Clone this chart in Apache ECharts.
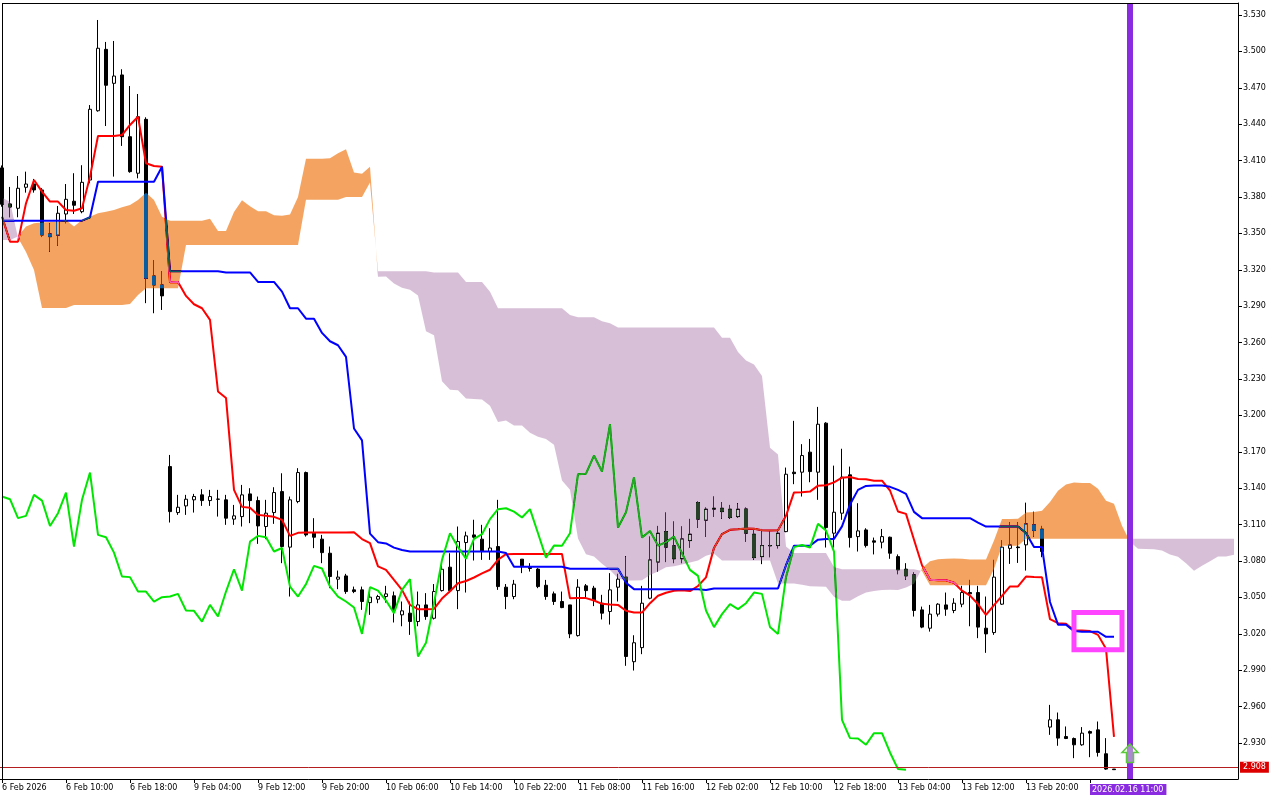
<!DOCTYPE html>
<html><head><meta charset="utf-8">
<script src="https://cdn.jsdelivr.net/npm/echarts@6/dist/echarts.min.js"></script>
<style>html,body{margin:0;padding:0;background:#fff}#c{width:1280px;height:800px}</style>
</head><body><div id="c"></div>
<script>
// ---------------- DATA ----------------
const openP = [
3.404,3.3743,3.3707,3.388,3.3907,3.3858,3.3496,3.3485,3.366,3.3765,
3.3679,3.394,3.4511,3.5017,3.4737,3.4806,3.4297,3.3996,3.444,3.3149,
3.3075,3.1578,3.1199,3.1254,3.1304,3.1345,3.1298,3.131,3.1304,3.1145,
3.1166,3.1353,3.1298,3.1084,3.1199,3.1372,3.0914,3.129,3.1529,3.1029,
3.098,3.0864,3.065,3.0677,3.0562,3.0562,3.0457,3.0485,3.0507,3.0513,
3.0356,3.037,3.0301,3.0438,3.0328,3.0556,3.0749,3.0556,3.0952,3.1015,
3.098,3.0878,3.0919,3.0584,3.0507,3.0815,3.0749,3.0733,3.06,3.0529,
3.0466,3.0438,3.0185,3.0595,3.0576,3.0452,3.0384,3.0584,3.0667,2.997,
3.0086,3.0493,3.0791,3.1042,3.0925,3.0818,3.0968,3.1282,3.1136,3.1227,
3.1235,3.1227,3.1166,3.1229,3.1021,3.0836,3.0927,3.0927,3.1042,3.1532,
3.1532,3.1697,3.1532,3.1936,3.1029,3.1194,3.151,3.1001,3.1056,3.0966,
3.0955,3.0996,3.0836,3.0733,3.0686,3.0397,3.0246,3.0362,3.0438,3.0392,
3.0444,3.054,3.054,3.0246,3.021,3.0444,3.0904,3.0915,3.0933,3.1098,
3.1062,2.9431,2.9491,2.9353,2.9337,2.9285,2.9394,2.9408,2.9211,2.9085];
const highP = [
3.406,3.3883,3.3973,3.4009,3.3949,3.3874,3.3584,3.3726,3.3907,3.3996,
3.4062,3.4558,3.5259,3.5078,3.5086,3.4853,3.4715,3.4649,3.4457,3.3276,
3.319,3.1674,3.1345,3.1345,3.1353,3.1392,3.1386,3.1386,3.1345,3.1262,
3.1427,3.14,3.1331,3.1304,3.1408,3.1523,3.1331,3.1565,3.1537,3.1153,
3.1015,3.0919,3.0721,3.0694,3.0589,3.0589,3.0535,3.0521,3.0595,3.0548,
3.0466,3.0466,3.0548,3.0535,3.061,3.0768,3.0864,3.1084,3.1042,3.114,
3.1098,3.107,3.1304,3.061,3.0644,3.0815,3.0782,3.0741,3.0644,3.0548,
3.0548,3.0438,3.065,3.061,3.0595,3.0521,3.07,3.0694,3.0839,3.0188,
3.0595,3.1001,3.1089,3.1199,3.1125,3.1084,3.1147,3.129,3.124,3.1331,
3.1286,3.1262,3.1276,3.124,3.107,3.1064,3.1042,3.1056,3.157,3.1955,
3.1763,3.1806,3.207,3.1944,3.1586,3.1725,3.1578,3.1276,3.107,3.0993,
3.1064,3.1001,3.0854,3.0782,3.0705,3.0424,3.0438,3.0452,3.054,3.0493,
3.0595,3.0644,3.0595,3.0507,3.0809,3.0968,3.1117,3.1117,3.1281,3.1207,
3.1089,2.9614,2.9551,2.9436,2.9345,2.9431,2.9403,2.9477,2.934,2.9085];
const lowP = [
3.372,3.3633,3.3633,3.3836,3.3836,3.347,3.335,3.3397,3.3584,3.366,
3.3666,3.3913,3.4503,3.4385,3.3968,3.4221,3.4,3.3954,3.2925,3.2842,
3.2869,3.1117,3.118,3.118,3.1199,3.1254,3.1254,3.1166,3.1098,3.1098,
3.1084,3.1112,3.0941,3.098,3.1106,3.0782,3.0507,3.1276,3.1001,3.0906,
3.0782,3.0576,3.0568,3.0529,3.0535,3.0397,3.0356,3.0452,3.0457,3.0293,
3.0262,3.0191,3.0262,3.0315,3.0318,3.0548,3.054,3.0403,3.054,3.0804,
3.0809,3.0809,3.0562,3.0403,3.0485,3.07,3.0713,3.0576,3.048,3.0438,
3.0411,3.0164,3.0177,3.0502,3.0428,3.0318,3.0276,3.0466,2.9936,2.9897,
3.0032,3.0485,3.0713,3.0791,3.0782,3.0782,3.0911,3.1072,3.1001,3.1166,
3.1147,3.1147,3.1158,3.096,3.0809,3.0774,3.0831,3.0904,3.1037,3.1433,
3.1331,3.1449,3.1304,3.0911,3.0911,3.1139,3.0911,3.0878,3.0911,3.0854,
3.0904,3.0818,3.0691,3.0644,3.0342,3.0246,3.0218,3.0342,3.0348,3.037,
3.0419,3.0262,3.0164,3.0043,3.0191,3.0438,3.0776,3.0784,3.0721,3.1001,
3.0831,2.9367,2.9277,2.9332,2.9175,2.9277,2.9183,2.9188,2.9079,2.908];
const closeP = [
3.374,3.3717,3.3872,3.3907,3.3858,3.3487,3.3473,3.3666,3.3781,3.3732,
3.3921,3.4523,3.5026,3.4721,3.4797,3.4297,3.4009,3.4462,3.313,3.3075,
3.2985,3.1207,3.1243,3.1309,3.1331,3.1298,3.1331,3.1309,3.1153,3.1172,
3.1345,3.1298,3.1089,3.1194,3.1364,3.0919,3.1304,3.1529,3.1015,3.0996,
3.0869,3.0672,3.0667,3.0548,3.0548,3.0466,3.0502,3.0507,3.0529,3.0392,
3.0389,3.0301,3.0438,3.0342,3.0548,3.0732,3.0556,3.096,3.1007,3.0996,
3.0878,3.0907,3.0589,3.0507,3.0609,3.076,3.0738,3.0589,3.0507,3.0466,
3.0416,3.0199,3.0584,3.0556,3.0474,3.037,3.0562,3.065,3.0013,3.0126,
3.0452,3.0809,3.1029,3.0914,3.0818,3.0982,3.1021,3.1145,3.1227,3.1235,
3.1207,3.1158,3.1227,3.1029,3.0828,3.0927,3.0925,3.1029,3.1515,3.152,
3.1669,3.1537,3.1927,3.1075,3.1202,3.1491,3.0993,3.1048,3.0927,3.0955,
3.1001,3.0864,3.0727,3.0677,3.0392,3.0255,3.0362,3.0444,3.0403,3.0452,
3.054,3.0529,3.0255,3.0199,3.0667,3.0914,3.0932,3.091,3.1106,3.1051,
3.0878,2.9491,2.934,2.9337,2.9285,2.9381,2.9381,2.9222,2.9085,2.908];
const tenkan = [
3.3638,3.3432,3.3432,3.3748,3.394,3.3844,3.3762,3.3762,3.3693,3.3687,
3.3707,3.3968,3.4303,3.4303,3.4303,3.4311,3.4394,3.4462,3.4078,3.4056,
3.405,3.3098,3.31,3.2985,3.2916,3.2883,3.2787,3.2197,3.2144,3.1386,
3.1246,3.1238,3.118,3.1172,3.1164,3.1139,3.1007,3.1032,3.1034,3.1034,
3.1034,3.1034,3.1034,3.1034,3.1036,3.0981,3.0947,3.0755,3.0727,3.0644,
3.0562,3.0438,3.0403,3.0403,3.0405,3.049,3.055,3.0617,3.0635,3.0664,
3.0698,3.0728,3.081,3.0856,3.0858,3.0858,3.0858,3.0858,3.0858,3.0858,
3.0858,3.0492,3.0494,3.0494,3.0474,3.0447,3.0441,3.0438,3.039,3.0375,
3.0375,3.0452,3.0513,3.0538,3.0554,3.0558,3.0552,3.0594,3.0665,3.0908,
3.1022,3.1057,3.1062,3.1068,3.1065,3.1053,3.1052,3.1053,3.1172,3.1365,
3.1367,3.1372,3.1421,3.1424,3.1448,3.1487,3.1492,3.1476,3.1474,3.1462,
3.1462,3.1381,3.1208,3.1188,3.0975,3.0765,3.0646,3.0642,3.0641,3.062,
3.0555,3.0515,3.0445,3.0355,3.0436,3.0512,3.059,3.059,3.0672,3.0668,
3.0665,3.032,3.0287,3.0282,3.0228,3.0228,3.0222,3.0191,3.0076,2.935];
const kijun = [
3.3605,3.3605,3.3605,3.3605,3.3605,3.3605,3.3605,3.3605,3.3605,3.3605,
3.3605,3.3633,3.3926,3.3926,3.3926,3.3926,3.3926,3.3926,3.3926,3.3926,
3.405,3.3188,3.3188,3.3188,3.3188,3.3188,3.3188,3.3188,3.3178,3.3178,
3.3178,3.3178,3.31,3.31,3.31,3.302,3.2883,3.2883,3.2797,3.2797,
3.268,3.2611,3.2578,3.2482,3.1892,3.1794,3.1025,3.0955,3.0945,3.091,
3.089,3.0878,3.0878,3.0878,3.0878,3.0878,3.0878,3.0878,3.0878,3.0878,
3.0878,3.0878,3.0878,3.0866,3.0752,3.0752,3.0752,3.0752,3.0752,3.0752,
3.0752,3.0736,3.0736,3.0736,3.0736,3.0736,3.0736,3.0736,3.062,3.0568,
3.0568,3.0568,3.0568,3.0568,3.0568,3.0568,3.0568,3.0568,3.056,3.0573,
3.0573,3.0573,3.0573,3.0573,3.0573,3.0573,3.0573,3.0573,3.0765,3.0926,
3.0926,3.0926,3.0976,3.0982,3.0982,3.1085,3.1265,3.1386,3.1419,3.1422,
3.1422,3.1411,3.1386,3.1353,3.1205,3.1153,3.1153,3.1153,3.1153,3.1153,
3.1153,3.1153,3.1117,3.1084,3.1084,3.1084,3.1084,3.1084,3.103,3.0915,
3.0915,3.0462,3.0275,3.0275,3.0222,3.0217,3.0217,3.0217,3.0175,3.0175];
const spanA = [
3.3446,3.3446,3.3475,3.3556,3.3584,3.3589,3.3594,3.3594,3.3611,3.3556,
3.3611,3.3638,3.3666,3.3679,3.3693,3.3715,3.3734,3.3776,3.3836,3.3776,
3.3638,3.3605,3.3605,3.3605,3.3605,3.3605,3.362,3.3519,3.3519,3.3677,
3.3773,3.3724,3.3683,3.3683,3.3649,3.3646,3.3656,3.38,3.4115,3.4115,
3.4115,3.4119,3.416,3.4194,3.4002,3.3991,3.405,3.3143,3.3144,3.3087,
3.3052,3.3036,3.2988,3.2693,3.2661,3.2282,3.2212,3.2208,3.214,3.2136,
3.2132,3.208,3.1945,3.1958,3.1916,3.1916,3.1857,3.1823,3.1806,3.1758,
3.1464,3.1388,3.0986,3.0855,3.0836,3.0777,3.0726,3.0658,3.064,3.064,
3.0641,3.0684,3.0714,3.0748,3.0757,3.0771,3.0788,3.0803,3.0844,3.0861,
3.0805,3.0805,3.0805,3.0805,3.0805,3.0805,3.0805,3.0614,3.0615,3.0615,
3.0605,3.0592,3.0589,3.0587,3.0505,3.0472,3.0472,3.051,3.0541,3.0553,
3.0561,3.0563,3.056,3.0581,3.0613,3.0741,3.0798,3.0815,3.0818,3.082,
3.0819,3.0813,3.0813,3.0813,3.0969,3.1146,3.1147,3.1149,3.1199,3.1203,
3.1215,3.1286,3.1379,3.1431,3.1447,3.1442,3.1442,3.1396,3.1297,3.1271,
3.109,3.0959,3.09,3.0898,3.0897,3.0887,3.0854,3.0834,3.0781,3.072,
3.076,3.0798,3.0837,3.0837,3.0851];
const spanB = [
3.3793,3.376,3.3465,3.3347,3.3199,3.2886,3.2886,3.2886,3.2886,3.291,
3.291,3.291,3.291,3.291,3.291,3.291,3.2919,3.2993,3.3048,3.3048,
3.3048,3.3048,3.3048,3.3405,3.3405,3.3405,3.3405,3.3405,3.3405,3.3405,
3.3405,3.3405,3.3405,3.3405,3.3405,3.3405,3.3405,3.3405,3.3777,3.3777,
3.3777,3.3777,3.3777,3.38,3.38,3.38,3.392,3.3188,3.3188,3.3188,
3.3188,3.3188,3.3188,3.3188,3.3178,3.3178,3.3178,3.3178,3.31,3.31,
3.31,3.302,3.2883,3.2883,3.2883,3.2883,3.2883,3.2883,3.2883,3.2883,
3.2883,3.2828,3.2808,3.2808,3.2808,3.2776,3.276,3.2725,3.2725,3.2725,
3.2725,3.2725,3.2725,3.2725,3.2725,3.2725,3.2725,3.2725,3.2725,3.2725,
3.2639,3.2639,3.2522,3.2453,3.242,3.2324,3.1734,3.1677,3.0919,3.0865,
3.0865,3.0865,3.0865,3.0865,3.0751,3.0731,3.0731,3.0731,3.0731,3.0731,
3.0731,3.0731,3.0731,3.0731,3.0731,3.0717,3.06,3.06,3.06,3.06,
3.06,3.06,3.06,3.06,3.0734,3.0926,3.0926,3.0926,3.0984,3.0984,
3.0984,3.0984,3.0984,3.0984,3.0984,3.0984,3.0984,3.0984,3.0984,3.0984,
3.0984,3.0984,3.0984,3.0984,3.0984,3.0984,3.0984,3.0984,3.0984,3.0984,
3.0984,3.0984,3.0984,3.0984,3.0984];
const CHIKOU_SHIFT = 26;           // lagging span = close plotted 26 bars back
const xTickLabels = ['6 Feb 2026','6 Feb 10:00','6 Feb 18:00','9 Feb 04:00','9 Feb 12:00','9 Feb 20:00',
  '10 Feb 06:00','10 Feb 14:00','10 Feb 22:00','11 Feb 08:00','11 Feb 16:00','12 Feb 02:00',
  '12 Feb 10:00','12 Feb 18:00','13 Feb 04:00','13 Feb 12:00','13 Feb 20:00'];
const LABEL_STEP = 8;
const cursorLabel = '2026.02.16 11:00';
const cursorLabelBar = 136;
const cursorBar = 141;
const yTicks = [3.530,3.500,3.470,3.440,3.410,3.380,3.350,3.320,3.290,3.260,3.230,3.200,
  3.170,3.140,3.110,3.080,3.050,3.020,2.990,2.960,2.930];
const bidPrice = 2.908;
const boxBars = [134, 140];
const boxPrices = [3.0375, 3.0068];
const arrowBar = 141;
const arrowPrice = 2.9217;
const N_SLOTS = 155;
const Y_MIN = 2.90031, Y_MAX = 3.5399;

// ---------------- BUILD ----------------
const cats = Array.from({length: N_SLOTS}, (_, i) => String(i));
const candles = openP.map((o, i) => [o, closeP[i], lowP[i], highP[i]]);
const chikou = closeP.slice(CHIKOU_SHIFT);

const bullShow = [244,164,96], bearShow = [216,191,216];
const inv = c => 'rgb(' + c.map(v => 255 - v).join(',') + ')';
const bullDiff = inv(bullShow), bearDiff = inv(bearShow);

const cloudRuns = [];
{
  let s = 0;
  for (let i = 1; i < spanA.length - 1; i++) {
    const up0 = spanA[s] >= spanB[s], upi = spanA[i] >= spanB[i];
    if (up0 !== upi) { cloudRuns.push([s, i, up0]); s = i; }
  }
  cloudRuns.push([s, spanA.length - 1, spanA[s] >= spanB[s]]);
}

const isLabelBar = i => (i % LABEL_STEP === 0 && i / LABEL_STEP < xTickLabels.length) || i === cursorLabelBar;
const FONT = 'DejaVu Sans';

const chart = echarts.init(document.getElementById('c'), null, {renderer: 'canvas', width: 1280, height: 800});
chart.setOption({
  animation: false,
  backgroundColor: '#ffffff',
  textStyle: {fontFamily: FONT},
  grid: {left: -2, right: 42, top: 3, bottom: 21, containLabel: false, outerBoundsMode: 'none'},
  xAxis: {
    type: 'category', data: cats, boundaryGap: true,
    axisLine: {show: true, lineStyle: {color: '#000', width: 1}},
    axisTick: {show: true, alignWithLabel: true, interval: isLabelBar, length: 4, lineStyle: {color: '#000'}},
    splitLine: {show: false},
    axisLabel: {
      show: true, interval: isLabelBar, align: 'left', margin: 5,
      color: '#000', fontSize: 8, fontFamily: FONT,
      formatter: (v, idx) => idx === cursorLabelBar ? '{p|' + cursorLabel + '}' : xTickLabels[idx / LABEL_STEP],
      rich: {p: {backgroundColor: '#8a2be2', color: '#fff', padding: [2, 3, 1, 2], fontSize: 8, fontFamily: FONT}}
    }
  },
  yAxis: {
    type: 'value', position: 'right', min: Y_MIN, max: Y_MAX, scale: true,
    axisLine: {show: true, lineStyle: {color: '#000', width: 1}},
    axisTick: {show: true, length: 4, customValues: yTicks, lineStyle: {color: '#000'}},
    splitLine: {show: false},
    axisLabel: {customValues: yTicks, formatter: v => v.toFixed(3), color: '#000', fontSize: 8, fontFamily: FONT, margin: 5}
  },
  graphic: [
    {type: 'line', silent: true, z: 100, shape: {x1: 2.5, y1: 3, x2: 2.5, y2: 779}, style: {stroke: '#000', lineWidth: 1}},
    {type: 'line', silent: true, z: 100, shape: {x1: 2, y1: 3.5, x2: 1238, y2: 3.5}, style: {stroke: '#000', lineWidth: 1}}
  ],
  series: [
    {
      type: 'candlestick', name: 'price', data: candles, z: 2, barWidth: 4, silent: true,
      itemStyle: {color: '#ffffff', color0: '#000000', borderColor: '#000000', borderColor0: '#000000', borderColorDoji: '#000000', borderWidth: 1},
      markLine: {
        silent: true, symbol: ['none', 'none'], animation: false,
        data: [{yAxis: bidPrice}],
        lineStyle: {color: '#b41e1e', width: 1, type: 'solid'},
        label: {show: true, position: 'end', distance: 2, formatter: () => bidPrice.toFixed(3),
          backgroundColor: '#dd0000', color: '#fff', padding: [2, 3, 1, 3], fontSize: 8, fontFamily: FONT}
      }
    },
    {type: 'line', name: 'Tenkan', data: tenkan, z: 3, symbol: 'none', silent: true, lineStyle: {color: '#ff0000', width: 2}},
    {type: 'line', name: 'Kijun', data: kijun, z: 3, symbol: 'none', silent: true, lineStyle: {color: '#0000ff', width: 2}},
    {type: 'line', name: 'Chikou', data: chikou, z: 3, symbol: 'none', silent: true, lineStyle: {color: '#00e600', width: 2}},
    {
      type: 'custom', name: 'cloud', z: 4, blendMode: 'difference', clip: true, silent: true,
      data: cloudRuns.map(r => [r[0], spanA[r[0]]]), encode: {x: 0, y: 1},
      renderItem: (params, api) => {
        const r = cloudRuns[params.dataIndex];
        const pts = [];
        for (let k = r[0]; k <= r[1]; k++) pts.push(api.coord([k, spanA[k]]));
        for (let k = r[1]; k >= r[0]; k--) pts.push(api.coord([k, spanB[k]]));
        return {type: 'polygon', shape: {points: pts}, style: {fill: r[2] ? bullDiff : bearDiff}};
      }
    },
    {
      type: 'custom', name: 'cursor', z: 6, silent: true, clip: false,
      data: [[cursorBar, Y_MAX]], encode: {x: 0, y: 1},
      renderItem: (params, api) => {
        const cs = params.coordSys;
        const x = api.coord([cursorBar, Y_MAX])[0];
        return {type: 'line', shape: {x1: x, y1: cs.y, x2: x, y2: cs.y + cs.height}, style: {stroke: '#8a2be2', lineWidth: 6}};
      }
    },
    {
      type: 'custom', name: 'box', z: 6, silent: true, clip: false,
      data: [[boxBars[0], boxPrices[0]]], encode: {x: 0, y: 1},
      renderItem: (params, api) => {
        const a = api.coord([boxBars[0], boxPrices[0]]);
        const b = api.coord([boxBars[1], boxPrices[1]]);
        return {type: 'rect', shape: {x: a[0], y: a[1], width: b[0] - a[0], height: b[1] - a[1]},
          style: {fill: 'none', stroke: '#ff44ff', lineWidth: 5}};
      }
    },
    {
      type: 'custom', name: 'arrow', z: 7, silent: true, clip: false,
      data: [[arrowBar, arrowPrice]], encode: {x: 0, y: 1},
      renderItem: (params, api) => {
        const c = api.coord([arrowBar, arrowPrice]);
        const rel = [[0,-9],[8,-0.5],[3.5,-0.5],[3.5,9.5],[-3.5,9.5],[-3.5,-0.5],[-8,-0.5]];
        return {type: 'polygon', shape: {points: rel.map(p => [c[0] + p[0], c[1] + p[1]])},
          style: {fill: 'rgba(214,250,190,0.45)', stroke: '#5cc83c', lineWidth: 1.5}};
      }
    }
  ]
});
</script>
</body></html>
